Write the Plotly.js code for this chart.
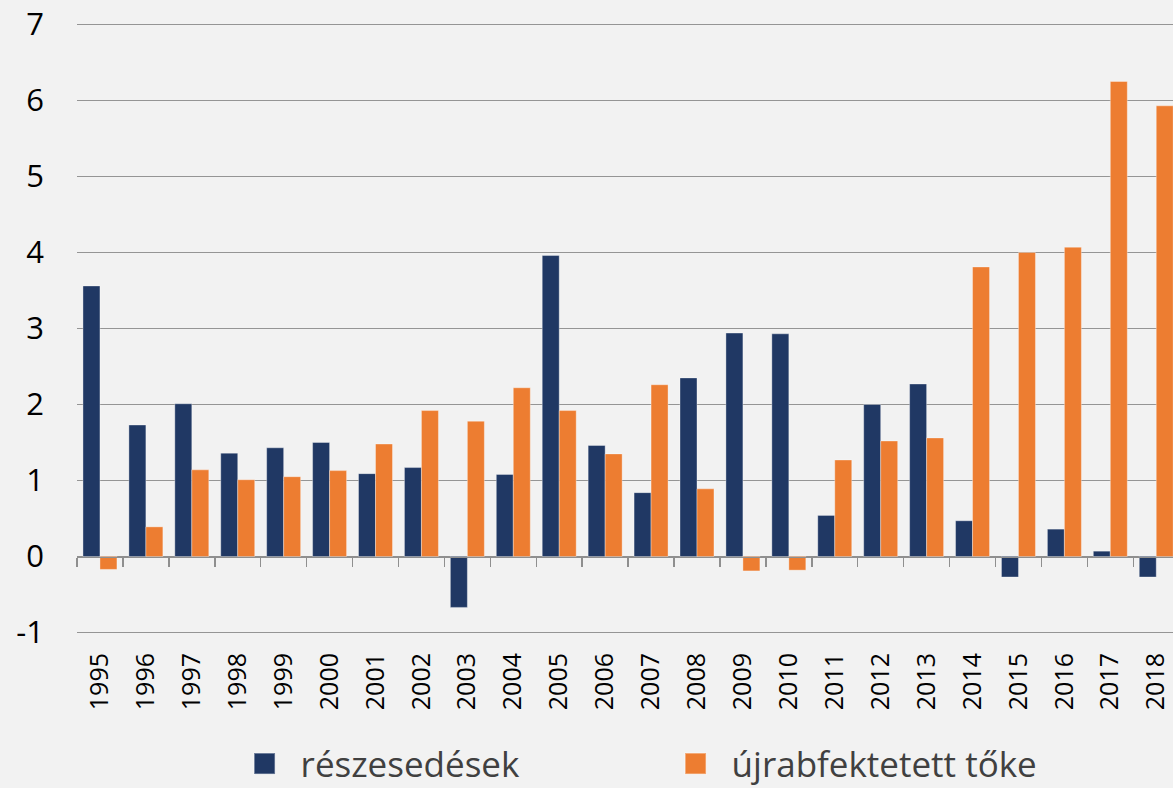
<!DOCTYPE html>
<html>
<head>
<meta charset="utf-8">
<script src="https://cdn.plot.ly/plotly-3.0.1.min.js"></script>
<style>
  html, body { margin: 0; padding: 0; background: #F2F2F2; overflow: hidden; }
  #chart { width: 1173px; height: 788px; }
  #chart .legend .legendpoints path { transform: translate(12px, 0px) scale(1.75); }
  #chart .legend .legendtext { transform: translate(8px, 0px); }
</style>
</head>
<body>
<div id="chart"></div>
<script>
// Data
const years = ['1995','1996','1997','1998','1999','2000','2001','2002','2003','2004','2005','2006',
               '2007','2008','2009','2010','2011','2012','2013','2014','2015','2016','2017','2018'];
const reszesedesek = [3.56, 1.73, 2.01, 1.36, 1.43, 1.50, 1.09, 1.17, -0.67, 1.08, 3.96, 1.46,
                      0.84, 2.35, 2.94, 2.93, 0.54, 2.00, 2.27, 0.47, -0.27, 0.36, 0.07, -0.27];
const ujrabefektetett = [-0.17, 0.39, 1.14, 1.01, 1.05, 1.13, 1.48, 1.92, 1.78, 2.22, 1.92, 1.35,
                         2.26, 0.89, -0.19, -0.18, 1.27, 1.52, 1.56, 3.81, 4.00, 4.07, 6.25, 5.93];
const seriesNames = ['részesedések', 'újrabfektetett tőke'];
const yTicks = [-1, 0, 1, 2, 3, 4, 5, 6, 7];

const xRange = [-0.5, 23.365];
const yRange = [-1.02, 7.02];

const traces = [
  {
    type: 'bar', name: seriesNames[0], x: years, y: reszesedesek,
    marker: { color: '#203864', line: { color: 'rgba(255,255,255,0.35)', width: 1 } },
    hoverinfo: 'x+y'
  },
  {
    type: 'bar', name: seriesNames[1], x: years, y: ujrabefektetett,
    marker: { color: '#ED7D31', line: { color: 'rgba(255,255,255,0.35)', width: 1 } },
    hoverinfo: 'x+y'
  },
  {
    // carrier for the tick marks drawn along the zero line
    type: 'scatter', mode: 'none', x: years, y: years.map(() => null),
    xaxis: 'x2', yaxis: 'y', showlegend: false, hoverinfo: 'skip'
  }
];

const layout = {
  width: 1173, height: 788,
  paper_bgcolor: '#F2F2F2', plot_bgcolor: '#F2F2F2',
  margin: { l: 77, r: 0, t: 22.5, b: 153.5, autoexpand: false },
  barmode: 'group', bargap: 0.26, bargroupgap: 0,
  font: { family: '"Open Sans", sans-serif', color: '#000' },
  xaxis: {
    type: 'category', range: xRange, automargin: false,
    showgrid: false, zeroline: false, showline: false,
    ticks: '', tickangle: -90,
    tickfont: { size: 25, color: '#000' },
    ticklabelstandoff: 13,
    fixedrange: true
  },
  xaxis2: {
    type: 'category', overlaying: 'x', anchor: 'free', position: 0.1266,
    range: xRange, categoryorder: 'array', categoryarray: years, automargin: false,
    showgrid: false, zeroline: false, showline: true, linecolor: '#8f8f8f', linewidth: 1.5,
    ticks: 'outside', tickson: 'boundaries', ticklen: 9, tickwidth: 1.5, tickcolor: '#8f8f8f',
    showticklabels: false, fixedrange: true
  },
  yaxis: {
    range: yRange, tickmode: 'array', tickvals: yTicks, ticktext: yTicks.map(String), automargin: false,
    showgrid: true, gridcolor: '#959595', gridwidth: 1.5,
    zeroline: true, zerolinecolor: '#8f8f8f', zerolinewidth: 1.5,
    showline: false, ticks: '',
    tickfont: { size: 31, color: '#000' },
    ticklabelstandoff: 32,
    fixedrange: true
  },
  showlegend: true,
  legend: {
    orientation: 'h', x: 0.1602, xanchor: 'left', y: -0.2125, yanchor: 'middle',
    font: { size: 35, color: '#404040' },
    entrywidth: 386, entrywidthmode: 'pixels',
    bgcolor: 'rgba(0,0,0,0)', traceorder: 'normal'
  }
};

Plotly.newPlot('chart', traces, layout, { displayModeBar: false, staticPlot: true });
</script>
</body>
</html>
